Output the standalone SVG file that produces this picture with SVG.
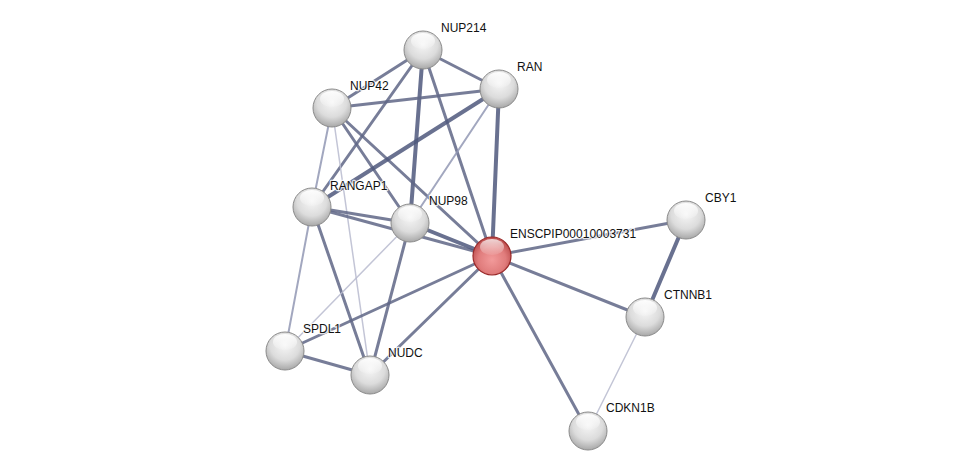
<svg xmlns="http://www.w3.org/2000/svg" width="976" height="476" viewBox="0 0 976 476">
<defs>
<radialGradient id="gw" cx="0.5" cy="0.35" r="0.65">
<stop offset="0" stop-color="#f6f6f6"/>
<stop offset="0.6" stop-color="#dcdcdc"/>
<stop offset="1" stop-color="#a8a8a8"/>
</radialGradient>
<radialGradient id="gr" cx="0.5" cy="0.6" r="0.6">
<stop offset="0" stop-color="#f29a9a"/>
<stop offset="0.6" stop-color="#e07c7c"/>
<stop offset="1" stop-color="#b84848"/>
</radialGradient>
<linearGradient id="hl" x1="0" y1="0" x2="0" y2="1">
<stop offset="0" stop-color="#ffffff" stop-opacity="0.95"/>
<stop offset="1" stop-color="#ffffff" stop-opacity="0.1"/>
</linearGradient>
<g id="sph">
<circle r="19" fill="url(#gw)" stroke="#8a8a8a" stroke-width="1"/>
<ellipse cx="0" cy="-9" rx="12" ry="8" fill="url(#hl)"/>
</g>
<g id="sphr">
<circle r="19" fill="url(#gr)" stroke="#9a2a2a" stroke-width="1.2"/>
<ellipse cx="0" cy="-9" rx="12" ry="8" fill="url(#hl)" opacity="0.8"/>
</g>
</defs>
<style>
.e{stroke:#5f6686;stroke-opacity:0.85;stroke-width:3;fill:none;stroke-linecap:round}
.t{stroke-width:4;stroke:#4f587c}
.l{stroke:#9298b4;stroke-width:2}
.vl{stroke:#b8bbcf;stroke-width:1.5}
text{font-family:"Liberation Sans",Arial,sans-serif;font-size:12px;fill:#111;stroke:#ffffff;stroke-width:2.5;stroke-opacity:0.8;paint-order:stroke;stroke-linejoin:round}
</style>
<rect width="976" height="476" fill="#ffffff"/>
<g id="edges">
<line class="e" x1="423" y1="50" x2="332" y2="108"/>
<line class="e" x1="423" y1="50" x2="499" y2="89"/>
<line class="e" x1="423" y1="50" x2="312" y2="207"/>
<line class="e t" x1="423" y1="50" x2="410" y2="223"/>
<line class="e" x1="423" y1="50" x2="492" y2="256"/>
<line class="e" x1="332" y1="108" x2="499" y2="89"/>
<line class="e l" x1="332" y1="108" x2="312" y2="207"/>
<line class="e vl" x1="332" y1="108" x2="370" y2="375"/>
<line class="e" x1="332" y1="108" x2="410" y2="223"/>
<line class="e" x1="332" y1="108" x2="492" y2="256"/>
<line class="e t" x1="499" y1="89" x2="312" y2="207"/>
<line class="e l" x1="499" y1="89" x2="410" y2="223"/>
<line class="e t" x1="499" y1="89" x2="492" y2="256"/>
<line class="e" x1="312" y1="207" x2="410" y2="223"/>
<line class="e" x1="312" y1="207" x2="492" y2="256"/>
<line class="e l" x1="312" y1="207" x2="285" y2="351"/>
<line class="e" x1="312" y1="207" x2="370" y2="375"/>
<line class="e t" x1="410" y1="223" x2="492" y2="256"/>
<line class="e vl" x1="410" y1="223" x2="285" y2="351"/>
<line class="e" x1="410" y1="223" x2="370" y2="375"/>
<line class="e" x1="492" y1="256" x2="285" y2="351"/>
<line class="e" x1="492" y1="256" x2="370" y2="375"/>
<line class="e" x1="492" y1="256" x2="686" y2="220"/>
<line class="e" x1="492" y1="256" x2="645" y2="317"/>
<line class="e" x1="492" y1="256" x2="588" y2="431"/>
<line class="e" x1="285" y1="351" x2="370" y2="375"/>
<line class="e t" x1="686" y1="220" x2="645" y2="317"/>
<line class="e vl" x1="645" y1="317" x2="588" y2="431"/>
</g>
<g id="NUP214"><use href="#sph" x="423" y="50"/><text x="441" y="32">NUP214</text></g>
<g id="RAN"><use href="#sph" x="499" y="89"/><text x="517" y="71">RAN</text></g>
<g id="NUP42"><use href="#sph" x="332" y="108"/><text x="350" y="90">NUP42</text></g>
<g id="RANGAP1"><use href="#sph" x="312" y="207"/><text x="330" y="190">RANGAP1</text></g>
<g id="NUP98"><use href="#sph" x="410" y="223"/><text x="429" y="205">NUP98</text></g>
<g id="ENSCPIP00010003731"><use href="#sphr" x="492" y="256"/><text x="510" y="238">ENSCPIP00010003731</text></g>
<g id="CBY1"><use href="#sph" x="686" y="220"/><text x="705" y="202">CBY1</text></g>
<g id="CTNNB1"><use href="#sph" x="645" y="317"/><text x="664" y="299">CTNNB1</text></g>
<g id="CDKN1B"><use href="#sph" x="588" y="431"/><text x="606" y="412">CDKN1B</text></g>
<g id="SPDL1"><use href="#sph" x="285" y="351"/><text x="303" y="333">SPDL1</text></g>
<g id="NUDC"><use href="#sph" x="370" y="375"/><text x="388" y="357">NUDC</text></g>
</svg>
